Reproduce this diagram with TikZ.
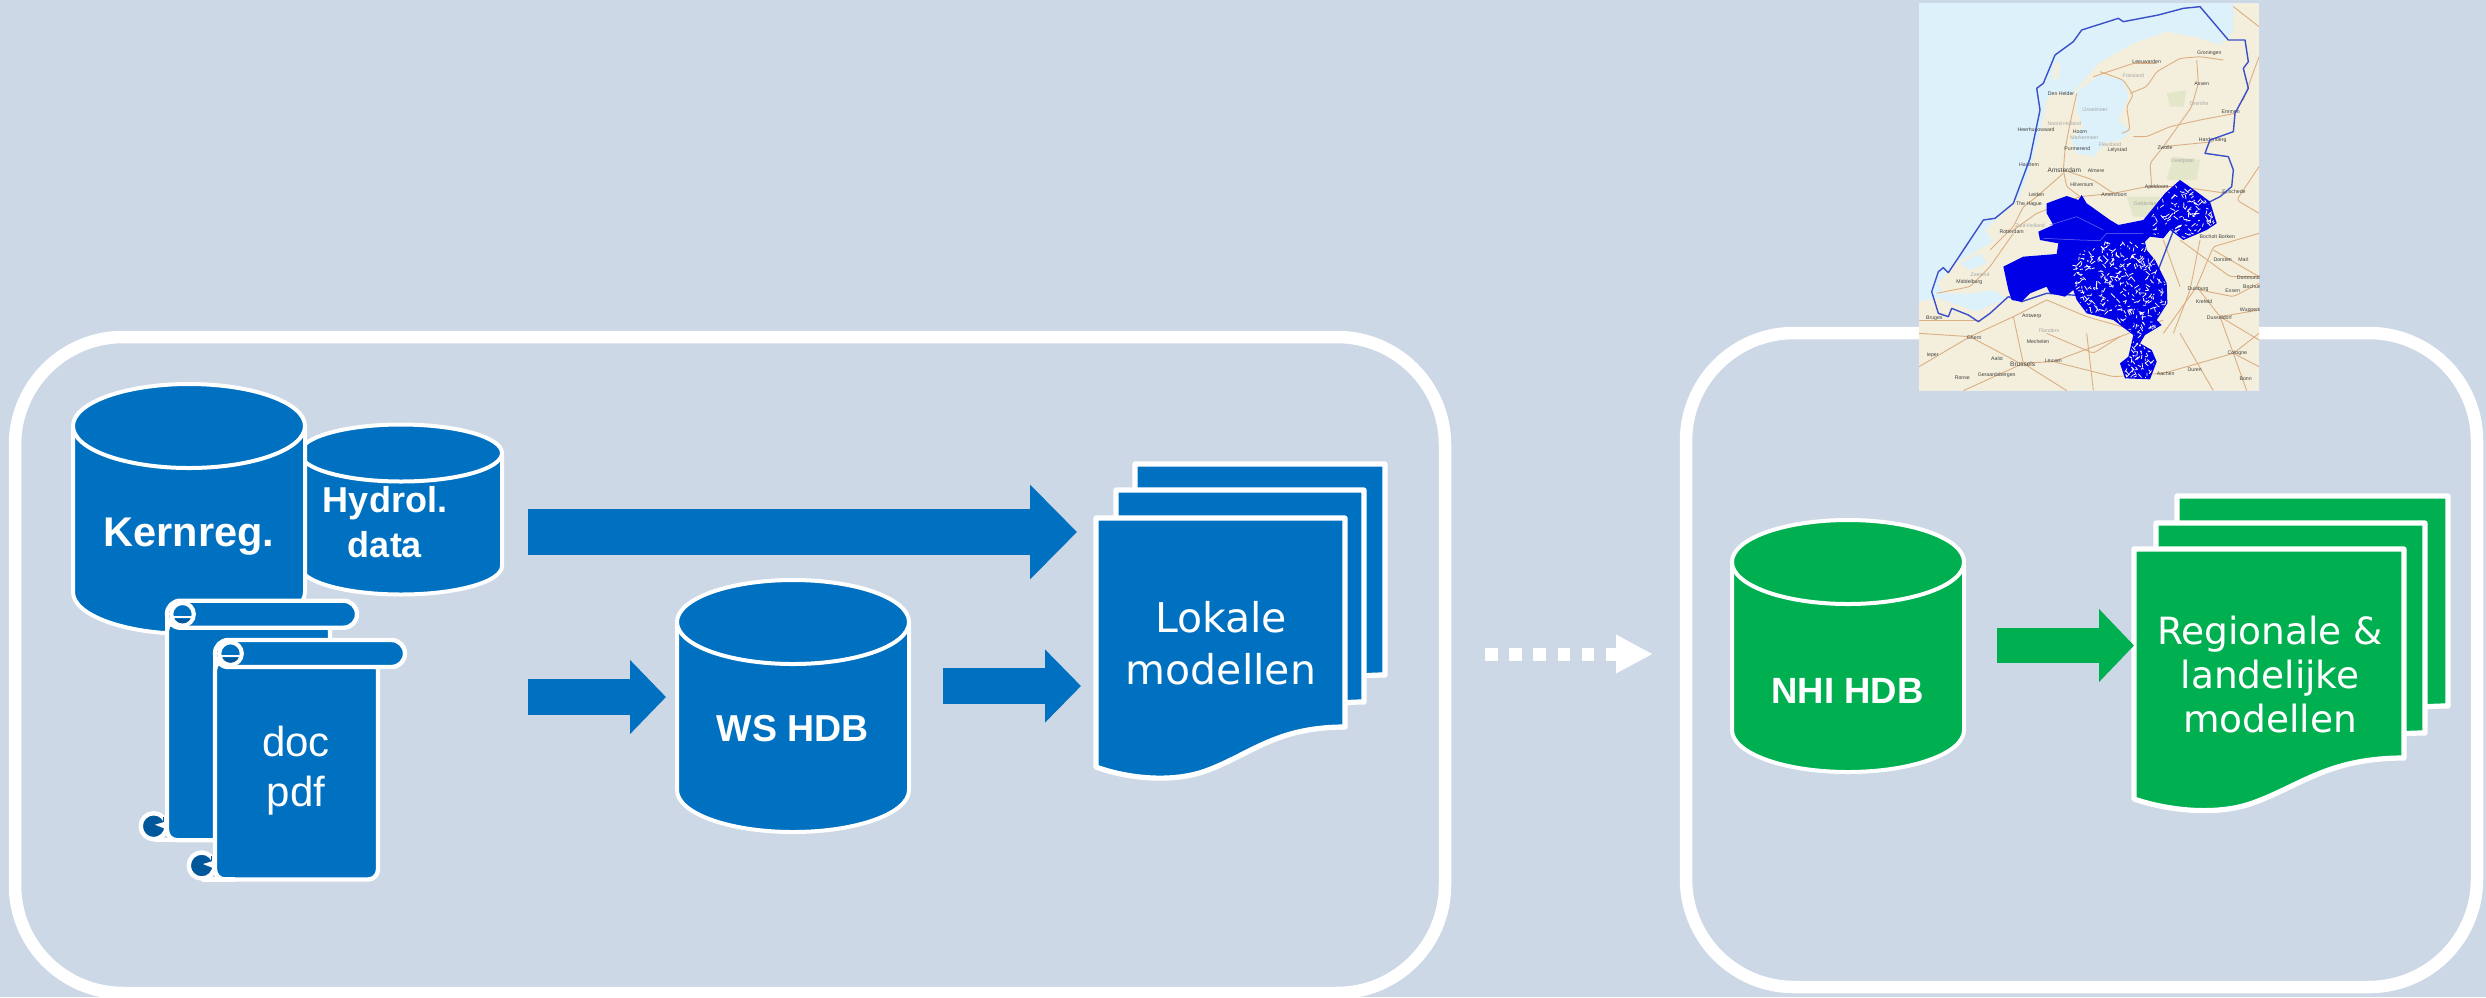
\documentclass[tikz,border=0pt]{standalone}
\usepackage{fontspec}
\setmainfont{Liberation Sans}
\newfontfamily\dvfont{DejaVu Sans}
\usetikzlibrary{arrows.meta}
\definecolor{bgc}{HTML}{CCD8E6}
\definecolor{bluec}{HTML}{0070C0}
\definecolor{greenc}{HTML}{00B050}
\definecolor{curlc}{HTML}{00589B}
\definecolor{landc}{HTML}{F4EFDC}
\definecolor{seac}{HTML}{DDF1FA}
\definecolor{roadc}{HTML}{DBAE84}
\definecolor{bordc}{HTML}{3B50C8}
\definecolor{regc}{HTML}{0000E6}
\definecolor{grc}{HTML}{E3E6C8}
\tikzset{
  panel/.style={draw=white,line width=12.5pt,rounded corners=108pt},
  cylshape/.style={draw=white,line width=4pt,line join=round},
  sheet/.style={draw=white,line width=5.2pt,line join=round},
  scr/.style={draw=white,line width=4.4pt,fill=bluec,line join=round},
  boldlabel/.style={text=white,inner sep=0pt,align=center},
  plainlabel/.style={text=white,inner sep=0pt,align=center},
  road/.style={draw=roadc,line width=0.9pt,rounded corners=3pt},
  ml/.style={inner sep=0pt,text=black!75,font=\fontsize{5.2}{6}\selectfont},
  mlg/.style={inner sep=0pt,text=black!35,font=\fontsize{5.2}{6}\selectfont}
}
\newcommand{\cylshapeat}[6]{%
  \pgfmathsetmacro{\kx}{0.5523*#3}\pgfmathsetmacro{\ky}{0.5523*#4}%
  \pgfmathsetmacro{\lx}{#1-#3}\pgfmathsetmacro{\rx}{#1+#3}\pgfmathsetmacro{\by}{#2+#5}\pgfmathsetmacro{\bby}{#2+#5+#4}%
  \path[cylshape,fill=#6] (\lx,#2) -- (\lx,\by) .. controls (\lx,\by+\ky) and (#1-\kx,\bby) .. (#1,\bby) .. controls (#1+\kx,\bby) and (\rx,\by+\ky) .. (\rx,\by) -- (\rx,#2) -- cycle;
  \path[cylshape,fill=#6] (#1,#2) ellipse [x radius=#3pt,y radius=#4pt];
}
\newcommand{\sheetat}[6]{%
  \pgfmathsetmacro{\shw}{#3-#1}\pgfmathsetmacro{\mx}{#1+0.44*\shw}\pgfmathsetmacro{\my}{#5+4}%
  \path[sheet,fill=#6] (#1,#2) -- (#3,#2) -- (#3,#4) .. controls (#3-0.28*\shw,#4) and (\mx+0.18*\shw,\my-0.065*\shw) .. (\mx,\my) .. controls (\mx-0.14*\shw,\my+0.05*\shw) and (#1+0.12*\shw,#5+11) .. (#1,#5) -- cycle;
}
\newcommand{\scrollat}[2]{%
  \begin{scope}[shift={(#1,#2)}]
    \path[scr,rounded corners=10pt] (0,20) -- (163,20) -- (163,239.5) -- (0,239.5) -- cycle;
    \path[scr,sharp corners] (0,14) -- (0,226);
    \draw[white,line width=4.4pt] (-13,239.5) -- (20,239.5);
    \path[draw=white,line width=4.4pt,fill=curlc] (-13.3,225.5) circle[radius=13pt];
    \fill[white] (-12,224) -- (-2,221) -- (-2,228) -- cycle;
    \draw[curlc,line width=1pt] (-4,216) -- (-4,221);
    \path[scr,rounded corners=13.4pt] (0,0) rectangle (190,27);
    \path[draw=white,line width=4.2pt,fill=bluec] (15.5,13.5) circle[radius=11.3pt];
    \begin{scope}
      \clip (15.5,13.5) circle[radius=9.2pt];
      \fill[curlc] (6,18) rectangle (24,24);
      \fill[bluec] (3,24) -- (8,18) -- (8,25) -- cycle;
    \end{scope}
    \draw[white,line width=2.4pt] (6,16) -- (24,16);
  \end{scope}
}
\begin{document}
\begin{tikzpicture}[x=1pt,y=-1pt]
\useasboundingbox (0,0) rectangle (2486,997);
\fill[bgc] (0,0) rectangle (2486,997);
\begin{scope}
\clip (0,0) rectangle (2486,997);
\path[panel] (15,337) rectangle (1445,993);
\path[panel] (1686,333) rectangle (2477,987);
\end{scope}

\cylshapeat{401}{453}{101}{28.5}{113}{bluec}
\cylshapeat{189}{426}{116}{42}{166}{bluec}
\scrollat{167}{600.7}
\scrollat{215}{640}
\node[boldlabel,anchor=base,font=\bfseries\fontsize{41.5}{46}\selectfont] (kern) at (189,546.7) {Kernreg.};
\node[boldlabel,font=\bfseries\fontsize{36}{45}\selectfont] (hyd) at (385,522.4) {Hydrol.\\data};
\node[plainlabel,font=\fontsize{42}{50}\selectfont] (doc) at (296,770.8) {doc\\pdf};

\cylshapeat{793}{622}{116}{42}{168}{bluec}
\node[boldlabel,anchor=base,font=\bfseries\fontsize{37.5}{46}\selectfont] (ws) at (793,741.7) {WS HDB};

\sheetat{1135}{464}{1385}{675}{715}{bluec}
\sheetat{1116}{490}{1364}{702}{742}{bluec}
\sheetat{1096}{518}{1345}{727}{767}{bluec}
\node[plainlabel,font=\dvfont\fontsize{41}{52}\selectfont] (lok) at (1221,643.5) {Lokale\\modellen};

\cylshapeat{1848}{562}{116}{42}{168}{greenc}
\node[boldlabel,anchor=base,font=\bfseries\fontsize{36.5}{46}\selectfont] (nhi) at (1847.5,703.3) {NHI HDB};

\sheetat{2177}{496}{2448}{706}{746}{greenc}
\sheetat{2156}{523}{2425}{733}{773}{greenc}
\sheetat{2134}{549}{2404}{758}{799}{greenc}
\node[plainlabel,font=\dvfont\fontsize{37.5}{44.4}\selectfont] (reg) at (2270,674.6) {Regionale \&\\landelijke\\modellen};

\coordinate (a1s) at (528,532);\coordinate (a1e) at (1077,532);
\coordinate (a2s) at (528,697);\coordinate (a2e) at (666,697);
\coordinate (a3s) at (943,686);\coordinate (a3e) at (1081,686);
\coordinate (a4s) at (1997,645.5);\coordinate (a4e) at (2134,645.5);
\coordinate (a5s) at (1485,654);\coordinate (a5e) at (1653,654);
\draw[bluec,line width=46pt,-{Triangle[length=47pt,width=92pt]}] (a1s) -- (a1e);
\draw[bluec,line width=36pt,-{Triangle[length=36pt,width=72pt]}] (a2s) -- (a2e);
\draw[bluec,line width=36pt,-{Triangle[length=36pt,width=71pt]}] (a3s) -- (a3e);
\draw[greenc,line width=35pt,-{Triangle[length=35pt,width=71pt]}] (a4s) -- (a4e);
\draw[white,line width=13pt,dash pattern=on 12.5pt off 11.7pt,-{Triangle[length=37pt,width=36pt]}] (a5s) -- (a5e);

% map, in crop coordinates (three crop units per pixel)
\begin{scope}[shift={(1880,0)},x=0.33333pt,y=-0.33333pt]
\clip (117,10) rectangle (1137,1172);
\fill[seac] (117,10) rectangle (1137,1172);
\fill[landc] (117,905) -- (175,895) -- (290,935) -- (380,895) -- (340,870) -- (270,880) -- (190,880) -- (175,850) -- (225,790) -- (340,725) -- (315,690) -- (355,655) -- (420,590) -- (455,490) -- (480,400) -- (500,300) -- (525,275) -- (575,285) -- (655,190) -- (760,130) -- (860,95) -- (950,112) -- (1020,135) -- (1060,95) -- (1060,10) -- (1137,10) -- (1137,1172) -- (117,1172) -- cycle;
\fill[landc] (522,190) -- (540,185) -- (535,235) -- (518,240) -- cycle;
\fill[seac] (590,275) -- (660,225) -- (730,240) -- (745,290) -- (715,360) -- (750,395) -- (720,425) -- (680,425) -- (640,470) -- (590,460) -- (575,420) -- (610,380) -- (590,330) -- cycle;
\fill[landc] (670,440) -- (720,420) -- (775,395) -- (790,440) -- (740,490) -- (680,500) -- cycle;
\fill[seac] (240,790) -- (300,760) -- (320,790) -- (270,810) -- cycle;
\fill[grc] (880,470) -- (960,480) -- (950,540) -- (860,540) -- cycle;
\fill[grc] (740,590) -- (840,590) -- (830,650) -- (760,650) -- cycle;
\fill[grc] (860,280) -- (920,270) -- (910,320) -- (870,320) -- cycle;

\draw[road] (590,280) -- (570,370) -- (555,450) -- (550,510) -- (560,560) -- (600,590);
\draw[road] (660,215) -- (730,240) -- (760,285) -- (740,320) -- (750,390) -- (725,400);
\draw[road] (750,280) -- (800,260) -- (830,215) -- (900,175) -- (960,170) -- (1030,180);
\draw[road] (640,230) -- (700,210) -- (760,190) -- (830,190);
\draw[road] (950,180) -- (955,250) -- (935,320) -- (900,370) -- (850,440) -- (810,490) -- (815,560);
\draw[road] (1065,340) -- (960,360) -- (870,380) -- (800,410) -- (760,410);
\draw[road] (850,440) -- (950,430) -- (1000,425);
\draw[road] (550,510) -- (640,540) -- (700,580) -- (800,560) -- (900,560) -- (1040,580);
\draw[road] (470,590) -- (550,520);
\draw[road] (470,590) -- (430,620) -- (400,680) -- (330,750);
\draw[road] (400,690) -- (470,640) -- (600,590) -- (700,580);
\draw[road] (400,700) -- (330,800) -- (270,860) -- (170,880);
\draw[road] (117,1000) -- (270,1010) -- (400,950) -- (500,900);
\draw[road] (400,950) -- (430,1090);
\draw[road] (270,1010) -- (420,1090) -- (520,1085) -- (720,1010) -- (850,960);
\draw[road] (117,1100) -- (270,1010);
\draw[road] (430,1090) -- (250,1172);
\draw[road] (430,1090) -- (560,1172);
\draw[road] (520,1085) -- (700,1130) -- (850,1120) -- (1060,1060) -- (1137,1000);
\draw[road] (960,870) -- (1060,890) -- (1137,850);
\draw[road] (1020,950) -- (1060,1060) -- (1100,1172);
\draw[road] (950,860) -- (1020,950) -- (1137,930);
\draw[road] (850,1000) -- (950,860) -- (1000,740) -- (1137,700);
\draw[road] (1000,750) -- (1137,830);
\draw[road] (900,720) -- (1050,830) -- (1137,830);
\draw[road] (1137,170) -- (1090,300);
\draw[road] (1137,500) -- (1070,600) -- (1137,640);
\draw[road] (1060,20) -- (1137,80);
\draw[road] (500,900) -- (620,950) -- (760,990);
\draw[road] (900,1000) -- (1000,1172);
\draw[road] (117,960) -- (300,960);
\draw[road] (620,1000) -- (640,1172);
\draw[road] (850,720) -- (900,860);
\draw[road] (960,720) -- (930,870) -- (880,1000);
\draw[road] (1060,1060) -- (1137,1100);
\draw[road] (1020,950) -- (1137,1020);
\draw[road] (500,1000) -- (640,1060) -- (720,1010);

% labels
\node[ml] at (800,185) {Leeuwarden};
\node[ml] at (988,160) {Groningen};
\node[ml] at (965,250) {Assen};
\node[ml] at (1052,336) {Emmen};
\node[ml] at (543,281) {Den Helder};
\node[ml] at (600,394) {Hoorn};
\node[ml] at (468,390) {Heerhugowaard};
\node[ml] at (592,447) {Purmerend};
\node[ml] at (712,451) {Lelystad};
\node[ml] at (855,444) {Zwolle};
\node[ml] at (998,419) {Hardenberg};
\node[ml] at (447,493) {Haarlem};
\node[ml] at (648,513) {Almere};
\node[ml] at (606,555) {Hilversum};
\node[ml] at (469,584) {Leiden};
\node[ml] at (702,585) {Amersfoort};
\node[ml] at (830,561) {Apeldoorn};
\node[ml] at (447,612) {The Hague};
\node[ml] at (1062,575) {Enschede};
\node[ml] at (395,695) {Rotterdam};
\node[ml] at (1012,710) {Bocholt Borken};
\node[ml] at (1028,780) {Dorsten};
\node[ml] at (1090,780) {Marl};
\node[ml] at (1105,832) {Dortmund};
\node[ml] at (954,866) {Duisburg};
\node[ml] at (1058,872) {Essen};
\node[ml] at (972,906) {Krefeld};
\node[ml] at (1018,952) {Dusseldorf};
\node[ml] at (1115,930) {Wuppertal};
\node[ml] at (1118,860) {Bochum};
\node[ml] at (268,845) {Middelburg};
\node[ml] at (163,955) {Bruges};
\node[ml] at (455,950) {Antwerp};
\node[ml] at (282,1014) {Ghent};
\node[ml] at (474,1024) {Mechelen};
\node[ml] at (158,1067) {Ieper};
\node[ml] at (351,1076) {Aalst};
\node[ml] at (520,1083) {Leuven};
\node[ml] at (247,1132) {Ronse};
\node[ml] at (350,1124) {Geraardsbergen};
\node[ml] at (857,1121) {Aachen};
\node[ml] at (944,1110) {Duren};
\node[ml] at (1072,1058) {Cologne};
\node[ml] at (1097,1137) {Bonn};
\node[mlg] at (760,228) {Friesland};
\node[mlg] at (958,310) {Drenthe};
\node[mlg] at (645,328) {IJsselmeer};
\node[mlg] at (553,372) {Noord-Holland};
\node[mlg] at (613,412) {Markermeer};
\node[mlg] at (690,435) {Flevoland};
\node[mlg] at (907,483) {Overijssel};
\node[mlg] at (800,610) {Gelderland};
\node[mlg] at (450,678) {Zuid-Holland};
\node[mlg] at (300,824) {Zeeland};
\node[mlg] at (507,993) {Flanders};
\node[ml,font=\fontsize{6.5}{7}\selectfont] at (553,512) {Amsterdam};
\node[ml,font=\fontsize{6.5}{7}\selectfont] at (428,1092) {Brussels};

% border
\draw[bordc,line width=1.4pt,line join=round] (155,875) -- (175,815) -- (190,803) -- (205,818) -- (310,660) -- (345,655) -- (400,610) -- (450,475) -- (480,330) -- (470,265) -- (490,250) -- (525,165) -- (580,125) -- (605,90) -- (715,55) -- (730,65) -- (835,45) -- (910,25) -- (960,20) -- (1045,120) -- (1095,120) -- (1105,185) -- (1090,205) -- (1105,265) -- (1065,340) -- (1060,395) -- (990,420) -- (975,460) -- (1045,470) -- (1060,510) -- (1055,560) -- (1020,590) -- (990,605) -- (900,640) -- (800,900) -- (500,880) -- (425,905) -- (385,890) -- (330,940) -- (295,965) -- (265,945) -- (215,925) -- (205,950) -- (175,940) -- cycle;

% water-board area: solid blue with lighter openings in its network part
\fill[regc] (500,610) -- (560,588) -- (595,600) -- (605,585) -- (620,610) -- (690,660) -- (715,675) -- (790,660) -- (855,580) -- (900,540) -- (950,575) -- (990,605) -- (1010,670) -- (980,690) -- (910,720) -- (870,690) -- (850,715) -- (810,710) -- (795,725) -- (800,750) -- (825,780) -- (860,850) -- (862,910) -- (830,960) -- (845,975) -- (795,1005) -- (780,1030) -- (815,1050) -- (830,1085) -- (810,1138) -- (735,1135) -- (720,1090) -- (745,1070) -- (760,1005) -- (700,960) -- (620,940) -- (590,900) -- (580,870) -- (555,890) -- (510,880) -- (500,860) -- (450,880) -- (425,905) -- (395,900) -- (385,870) -- (370,800) -- (430,770) -- (530,762) -- (535,730) -- (480,720) -- (475,695) -- (520,675) -- (500,640) -- cycle;
\begin{scope}
\clip (650,725) -- (795,725) -- (800,750) -- (825,780) -- (856,850) -- (858,910) -- (826,958) -- (840,975) -- (792,1003) -- (775,1030) -- (810,1052) -- (825,1085) -- (806,1134) -- (739,1131) -- (724,1090) -- (749,1070) -- (764,1005) -- (700,955) -- (622,935) -- (594,898) -- (575,800) -- (600,760) -- cycle
      (815,650) -- (855,585) -- (900,545) -- (947,578) -- (986,608) -- (1005,668) -- (978,686) -- (910,715) -- (870,685) -- (850,710) -- (810,700) -- cycle;
\pgfmathsetseed{11}
\foreach \i in {1,...,380}{%
  \pgfmathsetmacro{\xa}{575+rnd*285}\pgfmathsetmacro{\ya}{730+rnd*260}%
  \pgfmathsetmacro{\xb}{\xa+(rnd-0.5)*26}\pgfmathsetmacro{\yb}{\ya+(rnd-0.5)*26}%
  \draw[white!70!landc,line width=0.8pt,line cap=round] (\xa,\ya) -- (\xb,\yb);
}
\foreach \i in {1,...,110}{%
  \pgfmathsetmacro{\xa}{725+rnd*105}\pgfmathsetmacro{\ya}{990+rnd*145}%
  \pgfmathsetmacro{\xb}{\xa+(rnd-0.5)*24}\pgfmathsetmacro{\yb}{\ya+(rnd-0.5)*24}%
  \draw[white!70!landc,line width=0.8pt,line cap=round] (\xa,\ya) -- (\xb,\yb);
}
\foreach \i in {1,...,170}{%
  \pgfmathsetmacro{\xa}{810+rnd*200}\pgfmathsetmacro{\ya}{545+rnd*175}%
  \pgfmathsetmacro{\xb}{\xa+(rnd-0.5)*26}\pgfmathsetmacro{\yb}{\ya+(rnd-0.5)*26}%
  \draw[white!70!landc,line width=0.8pt,line cap=round] (\xa,\ya) -- (\xb,\yb);
}
\end{scope}
\draw[regc!55!white,line width=0.5pt] (510,675) -- (590,650) -- (670,690);
\draw[regc!55!white,line width=0.5pt] (490,715) -- (600,720) -- (660,722) -- (680,700) -- (790,700);
\end{scope}
\end{tikzpicture}
\end{document}
